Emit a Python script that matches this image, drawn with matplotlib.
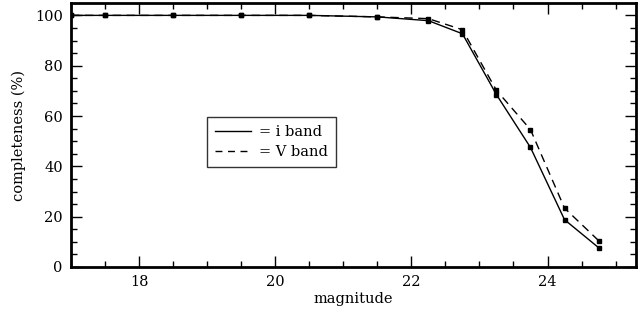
import matplotlib
matplotlib.use("Agg")
import matplotlib.pyplot as plt
from matplotlib.ticker import MultipleLocator
from matplotlib.lines import Line2D

mag = [17.0, 17.5, 18.5, 19.5, 20.5, 21.5, 22.25, 22.75, 23.25, 23.75, 24.25, 24.75]
i_band = [100, 100, 100, 100, 100, 99.4, 97.9, 92.7, 68.5, 47.5, 18.8, 7.7]
v_band = [100, 100, 100, 100, 100, 99.4, 98.7, 94.3, 70.2, 54.6, 23.4, 10.5]

plt.rcParams['font.family'] = ['DejaVu Serif']

fig = plt.figure(figsize=(6.41, 3.10), dpi=100)
ax = fig.add_axes([71/641, 1 - 267/310, (636-71)/641, (267-3.3)/310])

ax.plot(mag, i_band, color='black', lw=1.0, ls='-', marker='s', ms=3.5)
ax.plot(mag, v_band, color='black', lw=1.0, ls=(0, (6, 4)), marker='s', ms=3.5)

ax.set_xlim(17.0, 25.3)
ax.set_ylim(0, 104.8)
ax.xaxis.set_major_locator(MultipleLocator(2))
ax.xaxis.set_minor_locator(MultipleLocator(0.5))
ax.yaxis.set_major_locator(MultipleLocator(20))
ax.yaxis.set_minor_locator(MultipleLocator(5))
ax.tick_params(which='both', direction='in', top=True, right=True, width=1.0, labelsize=10.5)
ax.tick_params(which='major', length=8, pad=6)
ax.tick_params(which='minor', length=4)
for s in ax.spines.values():
    s.set_linewidth(2.0)

ax.set_xlabel('magnitude', fontsize=10.5, labelpad=2)
ax.set_ylabel('completeness (%)', fontsize=10.5, labelpad=6)

handles = [Line2D([], [], color='black', lw=1.0, ls='-'),
           Line2D([], [], color='black', lw=1.0, ls=(0, (5, 4)))]
leg = ax.legend(handles, ['= i band', '= V band'], loc='upper left',
                bbox_to_anchor=((207-71)/565, (267-116.7)/263.7),
                fontsize=10.5, frameon=True, fancybox=False, edgecolor='black',
                handlelength=2.5, handletextpad=0.5, borderpad=0.55,
                labelspacing=0.45, borderaxespad=0)
leg.get_frame().set_linewidth(1.0)

fig.savefig('out.png', dpi=100)
